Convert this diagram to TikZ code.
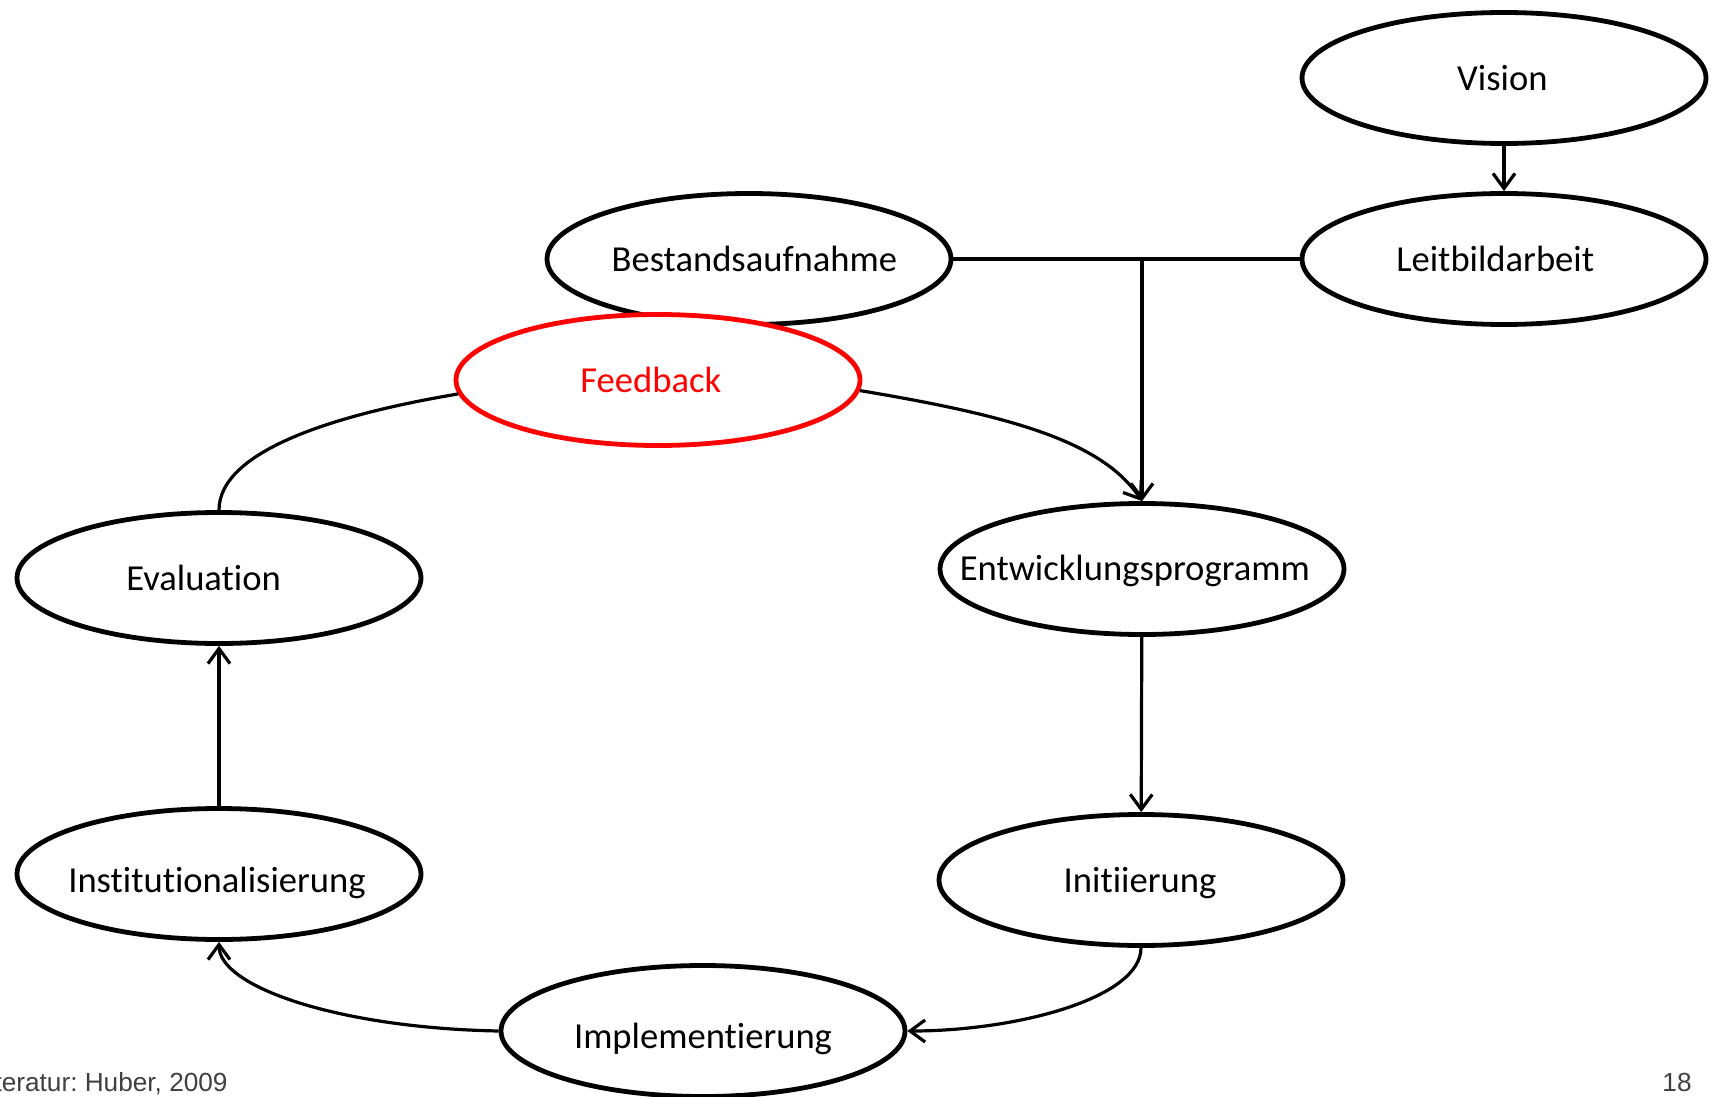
\documentclass[tikz,border=0pt]{standalone}
\usepackage{fontspec}
\setmainfont{Carlito}[Ligatures=NoCommon]
\newfontfamily\footfont{Liberation Sans}
\usetikzlibrary{shapes.geometric,arrows.meta}
\newcommand\shtext[3]{\makebox[0pt]{\kern#1\relax\raisebox{#2}[\height][\depth]{#3}\kern-#1\relax}}
\begin{document}
\frenchspacing
\begin{tikzpicture}[x=0.5pt,y=-0.5pt,
  box/.style={ellipse,draw=black,line width=2.4pt,fill=white,minimum width=202pt,minimum height=65.5pt,inner sep=0pt,font=\fontsize{18.3pt}{22pt}\selectfont},
  redbox/.style={box,draw=red,text=red},
  conn/.style={line width=1.6pt,draw=black},
  arr/.style={conn,-{Straight Barb[length=7.5pt,width=11pt]}},
  foot/.style={font=\footfont\fontsize{13.1pt}{15pt}\selectfont,text=black!75,inner sep=0pt}]
\useasboundingbox (0,0) rectangle (1719,1097);
\node[box] (vis) at (1504,78) {\shtext{-0.8pt}{0pt}{Vision}};
\node[box] (leit) at (1504,259) {\shtext{-4.4pt}{0pt}{Leitbildarbeit}};
\node[box] (best) at (749,259) {\shtext{2.7pt}{0pt}{Bestandsaufnahme}};
\node[redbox] (fb) at (658,380) {\shtext{-3.6pt}{0pt}{Feedback}};
\node[box] (eval) at (219,578) {\shtext{-7.7pt}{0pt}{Evaluation}};
\node[box] (entw) at (1142,569) {\shtext{-3.6pt}{-1pt}{Entwicklungsprogramm}};
\node[box] (inst) at (219,874) {\shtext{-1pt}{-4.5pt}{Institutionalisierung}};
\node[box] (init) at (1141,880) {\shtext{-0.5pt}{-1.5pt}{Initiierung}};
\node[box] (impl) at (703,1031) {\shtext{0pt}{-4pt}{Implementierung}};
\coordinate (junc) at (1142,259);
\draw[arr] (vis) -- (leit);
\draw[conn] (best.east) -- (leit.west);
\draw[arr] (junc) -- (entw.north);
\draw[arr] (fb.357) .. controls +(150,25) and +(-40,-60) .. (entw.north);
\draw[arr] (entw) -- (init);
\draw[arr] (init.south) .. controls +(0,50) and +(110,0) .. (impl.east);
\draw[arr] (impl.west) .. controls +(-160,-3) and +(0,45) .. (inst.south);
\draw[arr] (inst) -- (eval);
\draw[conn] (eval.north) .. controls +(0,-60) and +(-120,20) .. (fb.184);
\node[foot,anchor=base east] (lit) at (228,1091) {Literatur: Huber, 2009};
\node[foot,anchor=base east] (page) at (1692,1091) {18};
\end{tikzpicture}
\end{document}
